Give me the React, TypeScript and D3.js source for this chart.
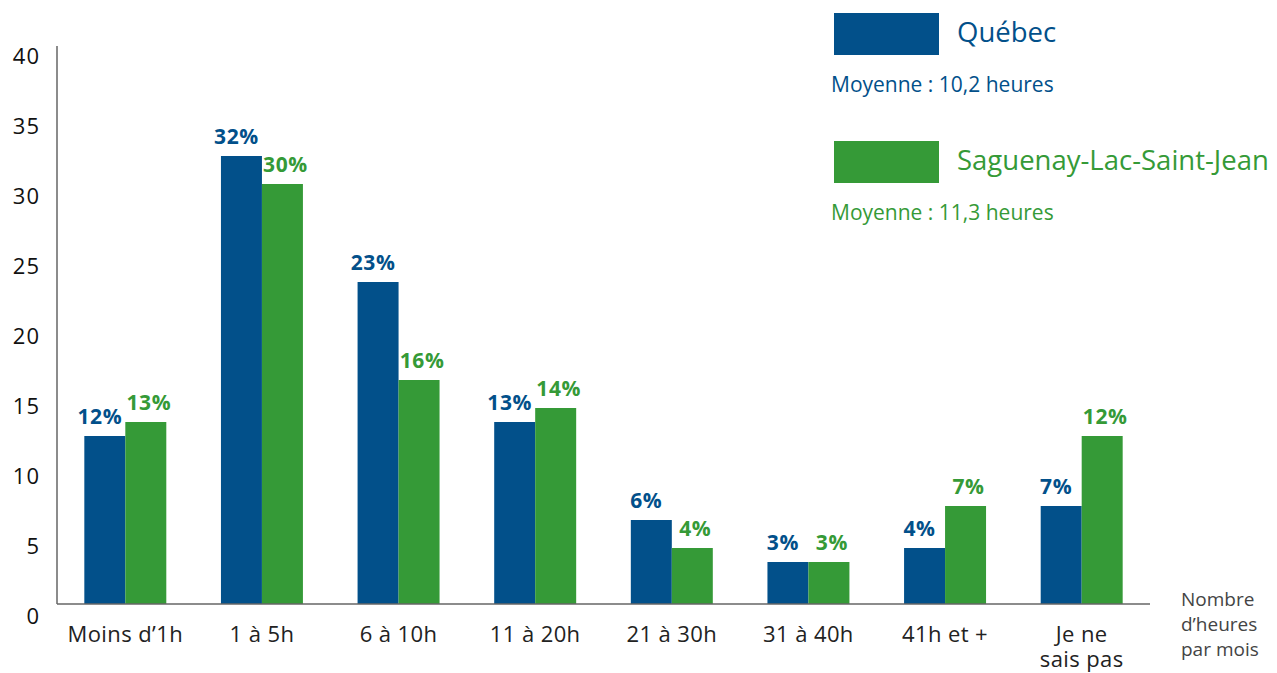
import React from "react";
import * as d3 from "d3";

const categories = ["Moins d’1h", "1 à 5h", "6 à 10h", "11 à 20h", "21 à 30h", "31 à 40h", "41h et +", "Je ne|sais pas"];
const quebec = [12, 32, 23, 13, 6, 3, 4, 7];
const saguenay = [13, 30, 16, 14, 4, 3, 7, 12];
const yTicks = [0, 5, 10, 15, 20, 25, 30, 35, 40];
const seriesNames = ["Québec", "Saguenay-Lac-Saint-Jean"];
const averages = ["Moyenne : 10,2 heures", "Moyenne : 11,3 heures"];
const axisTitle = ["Nombre", "d’heures", "par mois"];

const BLUE = "#02508a";
const GREEN = "#359a37";
const W = 1277;
const H = 673;

export default function App() {
  const x = d3.scaleBand<string>().domain(categories).range([57, 1150]).paddingInner(0.4).paddingOuter(0.2);
  const y = d3.scaleLinear().domain([0, 40]).range([604, 44]);
  const bw = x.bandwidth() / 2;
  const font = "'Open Sans', Lato, sans-serif";
  const series = [quebec, saguenay];
  const colors = [BLUE, GREEN];
  const labelShift = [-5, 3];

  return (
    <svg width={W} height={H} style={{ position: "absolute", left: 0, top: 0 }} fontFamily={font}>
      <rect x={0} y={0} width={W} height={H} fill="#fff" />
      {/* y tick labels */}
      {yTicks.map((t) => (
        <text key={t} x={40} y={y(t) + 12} dy="0.35em" textAnchor="end" fontSize={22} letterSpacing={1} fill="#111">
          {t}
        </text>
      ))}
      {/* bars */}
      {series.map((vals, si) =>
        vals.map((v, i) => (
          <rect
            key={`${si}-${i}`}
            x={(x(categories[i]) as number) + si * bw}
            y={y(v)}
            width={bw}
            height={y(0) - y(v)}
            fill={colors[si]}
          />
        ))
      )}
      {/* value labels */}
      {series.map((vals, si) =>
        vals.map((v, i) => (
          <text
            key={`l-${si}-${i}`}
            x={(x(categories[i]) as number) + si * bw + bw / 2 + labelShift[si]}
            y={y(v) - 12}
            textAnchor="middle"
            fontSize={21}
            letterSpacing={0.6}
            fontWeight={700}
            fill={colors[si]}
          >
            {v}%
          </text>
        ))
      )}
      {/* axes */}
      <line x1={57} x2={57} y1={46} y2={604} stroke="#666" strokeWidth={1.5} />
      <line x1={57} x2={1150} y1={604} y2={604} stroke="#666" strokeWidth={1.5} />
      {/* category labels */}
      {categories.map((c) => {
        const cx = (x(c) as number) + x.bandwidth() / 2;
        const lines = c.split("|");
        return (
          <text key={c} x={cx} y={642} textAnchor="middle" fontSize={22} letterSpacing={0.4} fill="#222">
            {lines.map((ln, k) => (
              <tspan key={k} x={cx} dy={k === 0 ? 0 : 25}>
                {ln}
              </tspan>
            ))}
          </text>
        );
      })}
      {/* axis title */}
      <text x={1181} y={606} fontSize={19} fill="#444">
        {axisTitle.map((ln, k) => (
          <tspan key={k} x={1181} dy={k === 0 ? 0 : 25}>
            {ln}
          </tspan>
        ))}
      </text>
      {/* legend */}
      {seriesNames.map((n, si) => (
        <g key={n} transform={`translate(0, ${si * 128})`}>
          <rect x={834} y={13} width={105} height={42} fill={colors[si]} />
          <text x={957} y={42} fontSize={27.5} fill={colors[si]}>
            {n}
          </text>
          <text x={831} y={92} fontSize={21} fill={colors[si]}>
            {averages[si]}
          </text>
        </g>
      ))}
    </svg>
  );
}
